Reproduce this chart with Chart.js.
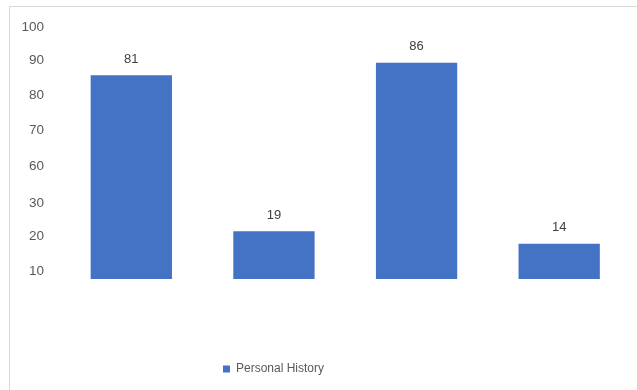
<!DOCTYPE html>
<html>
<head>
<meta charset="utf-8">
<script src="https://cdn.jsdelivr.net/npm/chart.js@4.4.1/dist/chart.umd.min.js"></script>
<style>
  html, body { margin: 0; padding: 0; background: #fff; overflow: hidden; }
  #wrap { position: relative; width: 637px; height: 390px; }
  #frame { position: absolute; left: 9px; top: 6px; width: 700px; height: 500px;
           border-left: 1px solid #d9d9d9; border-top: 1px solid #d9d9d9; }
  canvas { position: absolute; left: 0; top: 0; }
</style>
</head>
<body>
<div id="wrap">
  <div id="frame"></div>
  <canvas id="c" width="637" height="390"></canvas>
</div>
<script>
// ---- data ----
const categories = ["1", "2", "3", "4"];
const seriesName = "Personal History";
const seriesValues = [81, 19, 86, 14];
// tick labels as printed in the reference, and where they sit on the value scale
const tickLabels = ["10", "20", "30", "60", "70", "80", "90", "100"];
const tickValues = [3, 17, 30, 45, 59, 73, 87, 100];

const FONT = "'Liberation Sans', Arial, sans-serif";

const dataLabels = {
  id: 'dataLabels',
  afterDatasetsDraw(chart) {
    const ctx = chart.ctx;
    const meta = chart.getDatasetMeta(0);
    ctx.save();
    ctx.font = "13px " + FONT;
    ctx.fillStyle = "#404040";
    ctx.textAlign = "center";
    ctx.textBaseline = "middle";
    meta.data.forEach((bar, i) => {
      ctx.fillText(String(chart.data.datasets[0].data[i]), bar.x, bar.y - 16);
    });
    ctx.restore();
  }
};

const legendShift = {
  id: 'legendShift',
  afterLayout(chart) {
    const l = chart.legend;
    if (!l) return;
    l.left = 0;
    l.right = 547;
    l.width = 547;
  }
};

new Chart(document.getElementById('c'), {
  type: 'bar',
  data: {
    labels: categories,
    datasets: [{
      label: seriesName,
      data: seriesValues,
      backgroundColor: '#4472C4',
      borderWidth: 0,
      categoryPercentage: 1.0,
      barPercentage: 0.57
    }]
  },
  options: {
    responsive: false,
    animation: false,
    devicePixelRatio: 1,
    layout: { padding: { left: 0, right: 6.5, top: 27.5, bottom: 5 } },
    scales: {
      x: {
        display: true,
        grid: { display: false, drawTicks: false },
        border: { display: false },
        ticks: { display: false },
        afterFit(s) { s.height = 74; }
      },
      y: {
        min: 0,
        max: 100,
        grid: { display: false, drawTicks: false },
        border: { display: false },
        afterBuildTicks(s) { s.ticks = tickValues.map(v => ({ value: v })); },
        afterFit(s) { s.width = 60; },
        ticks: {
          padding: 16,
          color: '#595959',
          font: { family: FONT, size: 13.5 },
          callback: (v, i) => tickLabels[i]
        }
      }
    },
    plugins: {
      legend: {
        position: 'bottom',
        labels: {
          boxWidth: 7,
          boxHeight: 7,
          color: '#595959',
          font: { family: FONT, size: 12 },
          padding: 10
        }
      },
      tooltip: { enabled: false }
    }
  },
  plugins: [dataLabels, legendShift]
});
</script>
</body>
</html>
